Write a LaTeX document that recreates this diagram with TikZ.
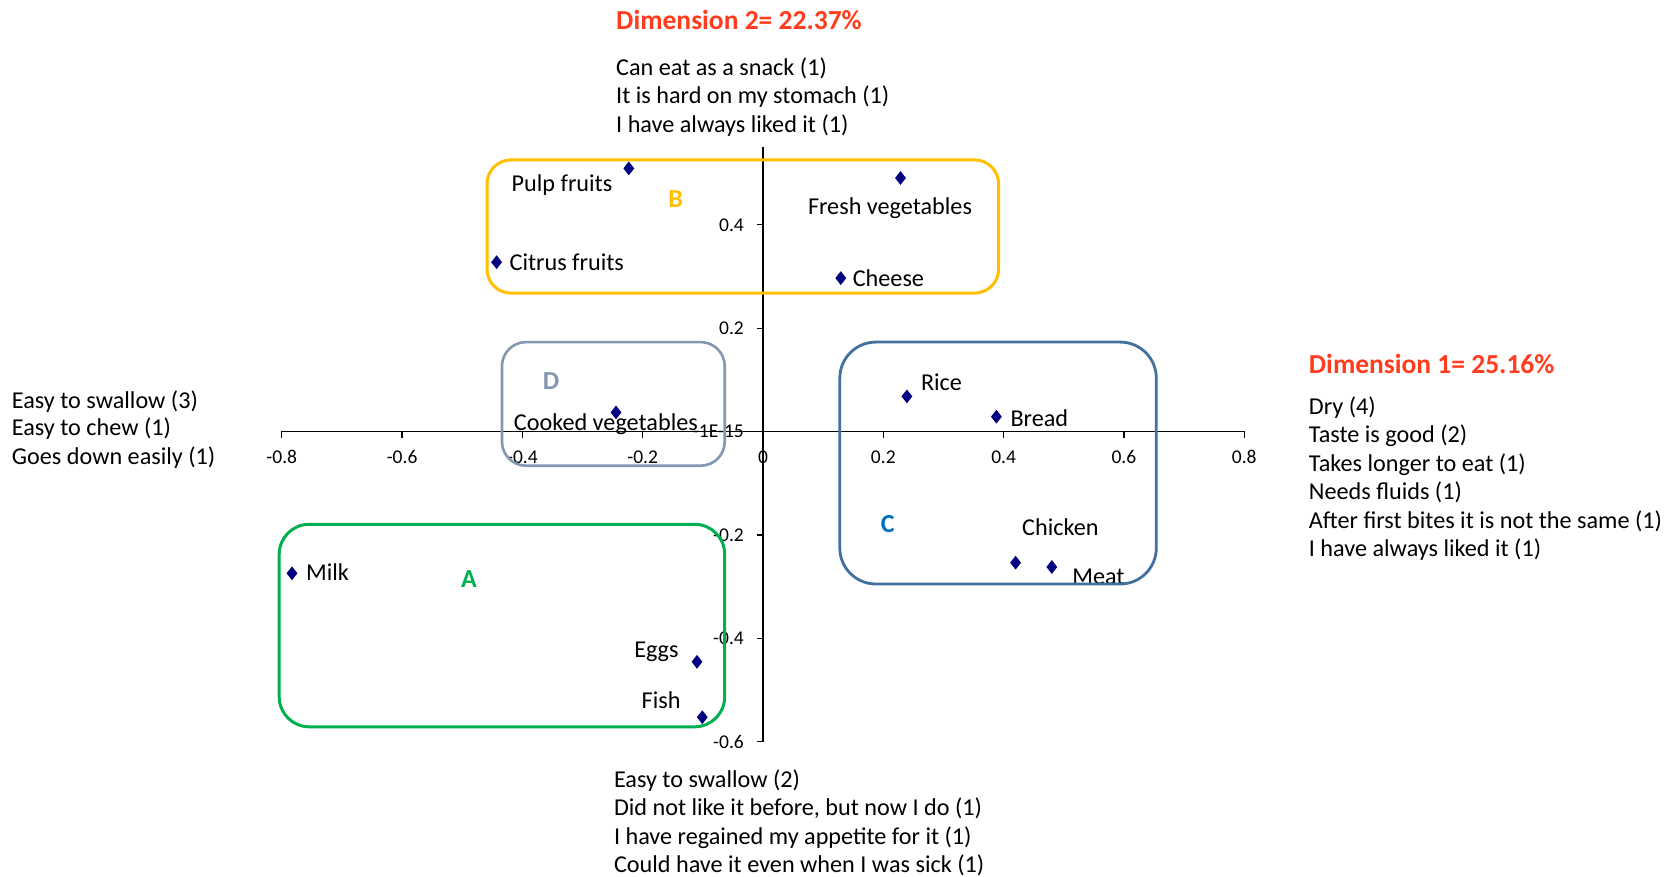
\documentclass[tikz,border=0pt]{standalone}
\usepackage{fontspec}
\setmainfont{Carlito}
\usetikzlibrary{shapes.geometric}
\definecolor{navy}{RGB}{0,0,128}
\definecolor{dimred}{RGB}{255,60,30}
\definecolor{grpB}{RGB}{255,192,0}
\definecolor{grpA}{RGB}{0,176,80}
\definecolor{grpC}{RGB}{65,113,156}
\definecolor{grpCl}{RGB}{0,112,192}
\definecolor{grpD}{RGB}{132,151,176}
\tikzset{
 lbl/.style={anchor=west, inner sep=0pt, yshift=-6pt, font=\fontsize{24.2}{28}\selectfont, text height=0.72em, text depth=0.2em},
 head/.style={lbl, font=\fontsize{27.5}{30}\selectfont\bfseries, text=dimred},
 ticklbl/.style={inner sep=0pt, yshift=-3pt, font=\fontsize{19.5}{21}\selectfont, text height=0.7em, text depth=0.05em},
 marker/.style={diamond, fill=navy, inner sep=0pt, minimum width=11pt, minimum height=14pt},
 grp/.style={line width=3pt},
 grpletter/.style={inner sep=0pt, font=\fontsize{26}{28}\selectfont\bfseries},
 axisline/.style={line width=1.3pt, black}
}
\begin{document}
\begin{tikzpicture}[x=1pt,y=-1pt]
\useasboundingbox[fill=white] (0,0) rectangle (1671,877);

% axes
\coordinate (xl) at (281.4,431.6);
\coordinate (xr) at (1244.6,431.6);
\coordinate (yt) at (763,147);
\coordinate (yb) at (763,741.8);
\draw[axisline] (xl) -- (xr);
\draw[axisline] (yb) -- (yt);

% x ticks
\foreach \v/\t [count=\i] in {-0.8/-0.8,-0.6/-0.6,-0.4/-0.4,-0.2/-0.2,0/0,0.2/0.2,0.4/0.4,0.6/0.6,0.8/0.8}{
  \draw[axisline] ({763+601.5*(\v)},431.6) -- ++(0,6);
  \node[ticklbl] (xt\i) at ({763+601.5*(\v)},457.2) {\t};
}
% y ticks
\foreach \v/\t [count=\i] in {0.4/0.4,0.2/0.2,0/-1E-15,-0.2/-0.2,-0.4/-0.4,-0.6/-0.6}{
  \draw[axisline] (763,{431.6-517*(\v)}) -- ++(-6,0);
  \node[ticklbl, anchor=east] (yt\i) at (744,{431.6-517*(\v)}) {\t};
}

% data points
\node[marker] (m1) at (628.8,168.4) {};
\node[lbl] (l1) at (511.5,183.3) {Pulp fruits};
\node[marker] (m2) at (900.5,178.0) {};
\node[lbl] (l2) at (807.8,205.7) {Fresh vegetables};
\node[marker] (m3) at (496.6,262.2) {};
\node[lbl] (l3) at (509.4,262.2) {Citrus fruits};
\node[marker] (m4) at (840.8,278.1) {};
\node[lbl] (l4) at (852.6,278.1) {Cheese};
\node[marker] (m5) at (616.0,412.4) {};
\node[lbl] (l5) at (513.7,422.0) {Cooked vegetables};
\node[marker] (m6) at (906.9,396.4) {};
\node[lbl] (l6) at (920.8,381.5) {Rice};
\node[marker] (m7) at (996.4,416.7) {};
\node[lbl] (l7) at (1010.3,417.8) {Bread};
\node[marker] (m8) at (1015.6,562.7) {};
\node[lbl] (l8) at (1022.0,526.5) {Chicken};
\node[marker] (m9) at (1051.8,567.0) {};
\node[lbl] (l9) at (1072.1,575.5) {Meat};
\node[marker] (m10) at (292.0,573.3) {};
\node[lbl] (l10) at (305.9,572.3) {Milk};
\node[marker] (m11) at (697.0,661.8) {};
\node[lbl] (l11) at (634.1,649.0) {Eggs};
\node[marker] (m12) at (702.3,717.2) {};
\node[lbl] (l12) at (641.5,700.2) {Fish};

% group boxes
\draw[grp, grpB, rounded corners=24pt] (487.0,159.9) rectangle (998.6,293.1);
\draw[grp, grpD, line width=2.6pt, rounded corners=24pt] (502.0,342.1) rectangle (724.7,465.7);
\draw[grp, grpC, line width=2.8pt, rounded corners=36pt] (839.8,342.1) rectangle (1156.3,584.0);
\draw[grp, grpA, rounded corners=30pt] (279.2,524.3) rectangle (724.7,726.8);

\node[grpletter, text=grpB] (gB) at (675.7,199.3) {B};
\node[grpletter, text=grpD] (gD) at (551.0,381.5) {D};
\node[grpletter, text=grpCl] (gC) at (887.7,524.3) {C};
\node[grpletter, text=grpA] (gA) at (468.9,578.7) {A};

% dimension 2
\node[head] (d2) at (616,21.3) {Dimension 2= 22.37\%};
\node[lbl] (t1) at (616,67.1) {Can eat as a snack (1)};
\node[lbl] (t2) at (616,94.8) {It is hard on my stomach (1)};
\node[lbl] (t3) at (616,123.6) {I have always liked it (1)};

% left
\node[lbl] (w1) at (11.7,399.6) {Easy to swallow (3)};
\node[lbl] (w2) at (11.7,427.3) {Easy to chew (1)};
\node[lbl] (w3) at (11.7,456.1) {Goes down easily (1)};

% dimension 1
\node[head] (d1) at (1308.7,364.5) {Dimension 1= 25.16\%};
\node[lbl] (e1) at (1308.7,406.0) {Dry (4)};
\node[lbl] (e2) at (1308.7,433.7) {Taste is good (2)};
\node[lbl] (e3) at (1308.7,462.5) {Takes longer to eat (1)};
\node[lbl] (e4) at (1308.7,491.3) {Needs fluids (1)};
\node[lbl] (e5) at (1308.7,520.1) {After first bites it is not the same (1)};
\node[lbl] (e6) at (1308.7,547.8) {I have always liked it (1)};

% bottom
\node[lbl] (b1) at (613.8,779.0) {Easy to swallow (2)};
\node[lbl] (b2) at (613.8,806.7) {Did not like it before, but now I do (1)};
\node[lbl] (b3) at (613.8,835.5) {I have regained my appetite for it (1)};
\node[lbl] (b4) at (613.8,864.3) {Could have it even when I was sick (1)};
\end{tikzpicture}
\end{document}
